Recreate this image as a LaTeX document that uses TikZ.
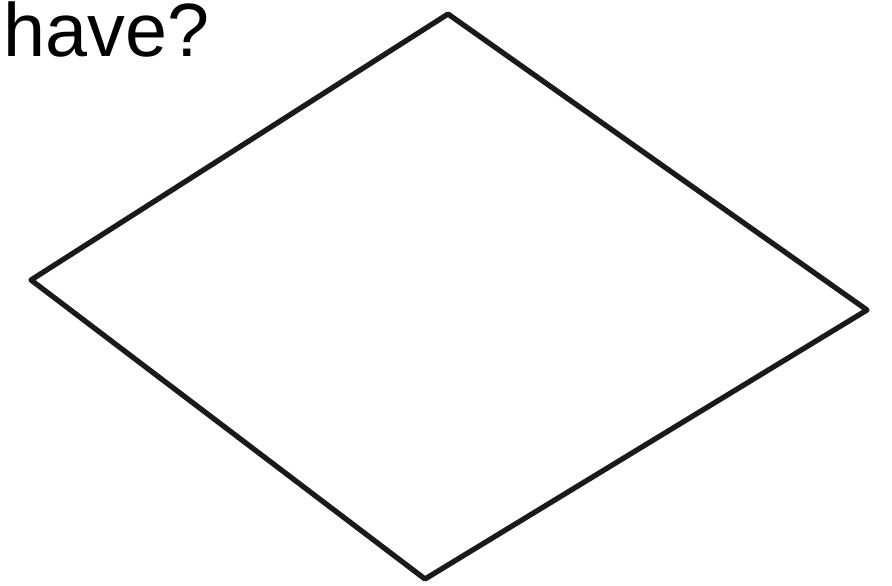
\documentclass[tikz,border=0pt]{standalone}
\usepackage{fontspec}
\setmainfont{Liberation Sans}
\usepackage{tikz}
\definecolor{cline}{HTML}{1a1a1a}

\begin{document}
\begin{tikzpicture}[x=0.02cm,y=-0.02cm]
  \useasboundingbox (0,0) rectangle (892,585);
  \clip (0,0) rectangle (892,585);
  % leftover question text
  \node[anchor=base west,inner sep=0pt,font=\fontsize{43}{47}\selectfont] (ask) at (3,56) {have?};
  % decision box
  \coordinate (dtop) at (448,14);
  \coordinate (dright) at (867,310);
  \coordinate (dbot) at (425,579);
  \coordinate (dleft) at (31,280);
  \draw[cline,line width=3pt,line join=round] (dtop) -- (dright) -- (dbot) -- (dleft) -- cycle;
\end{tikzpicture}
\end{document}
